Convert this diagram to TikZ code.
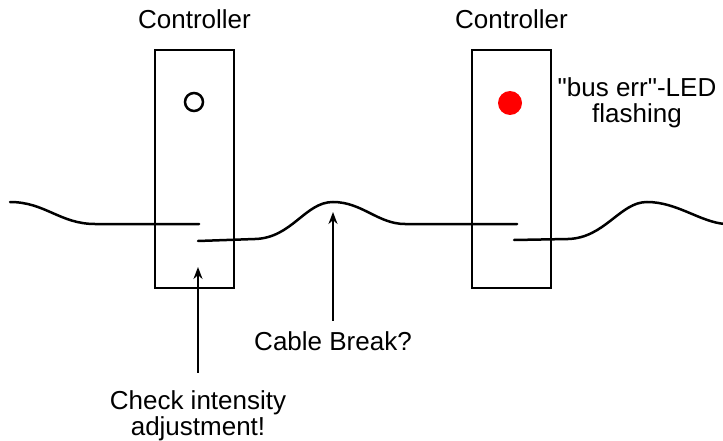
\documentclass[tikz,border=0pt]{standalone}
\usepackage{fontspec}
\setmainfont{Liberation Sans}
\usetikzlibrary{arrows.meta,positioning}
\definecolor{LedRed}{HTML}{FF0000}
\begin{document}
\begin{tikzpicture}[x=1pt,y=-1pt,
    ctrlbox/.style={draw,line width=2.5pt,minimum width=79pt,minimum height=238pt,inner sep=0pt},
    cable/.style={line width=2.5pt,line cap=round},
    pointer/.style={line width=2.5pt,-{Stealth[length=12pt,width=9pt]}},
    lbl/.style={font=\fontsize{26}{26}\selectfont,inner sep=0pt,align=center}]
  \useasboundingbox (0,0) rectangle (723,441);
  % the two controllers
  \node[ctrlbox] (ctrlA) at (194.5,169) {};
  \node[ctrlbox] (ctrlB) at (511.5,169) {};
  \node[lbl,anchor=base] (nameA) at (194.5,29) {Controller};
  \node[lbl,anchor=base] (nameB) at (511.5,29) {Controller};
  % leds
  \node[draw,circle,line width=2.5pt,minimum size=18pt,inner sep=0pt] (ledA) at (194,102) {};
  \node[fill=LedRed,circle,minimum size=24pt,inner sep=0pt] (ledB) at (510,103) {};
  \node[lbl,anchor=base] (ledtxt) at (637,123) {\textquotedbl bus err\textquotedbl-LED\\flashing};
  % cable pieces
  \draw[cable] (10,202) .. controls (45,202) and (60,224) .. (95,224) -- (199,224);
  \draw[cable] (198,241) -- (255,239) .. controls (292,238) and (305,202) .. (333,202)
    .. controls (362,202) and (378,224) .. (405,224) -- (517,224);
  \draw[cable] (514,240) -- (568,239) .. controls (605,238) and (620,202) .. (647,202)
    .. controls (677,202) and (700,222) .. (725,224);
  % hints
  \coordinate (tipA) at (198,267);
  \coordinate (tipB) at (333,212);
  \node[lbl,anchor=base] (hintB) at (333,350) {Cable Break?};
  \node[lbl,anchor=base] (hintA) at (198,435) {Check intensity\\adjustment!};
  \draw[pointer] ([yshift=17pt]hintA.north) -- (tipA);
  \draw[pointer] ([yshift=10pt]hintB.north) -- (tipB);
\end{tikzpicture}
\end{document}
